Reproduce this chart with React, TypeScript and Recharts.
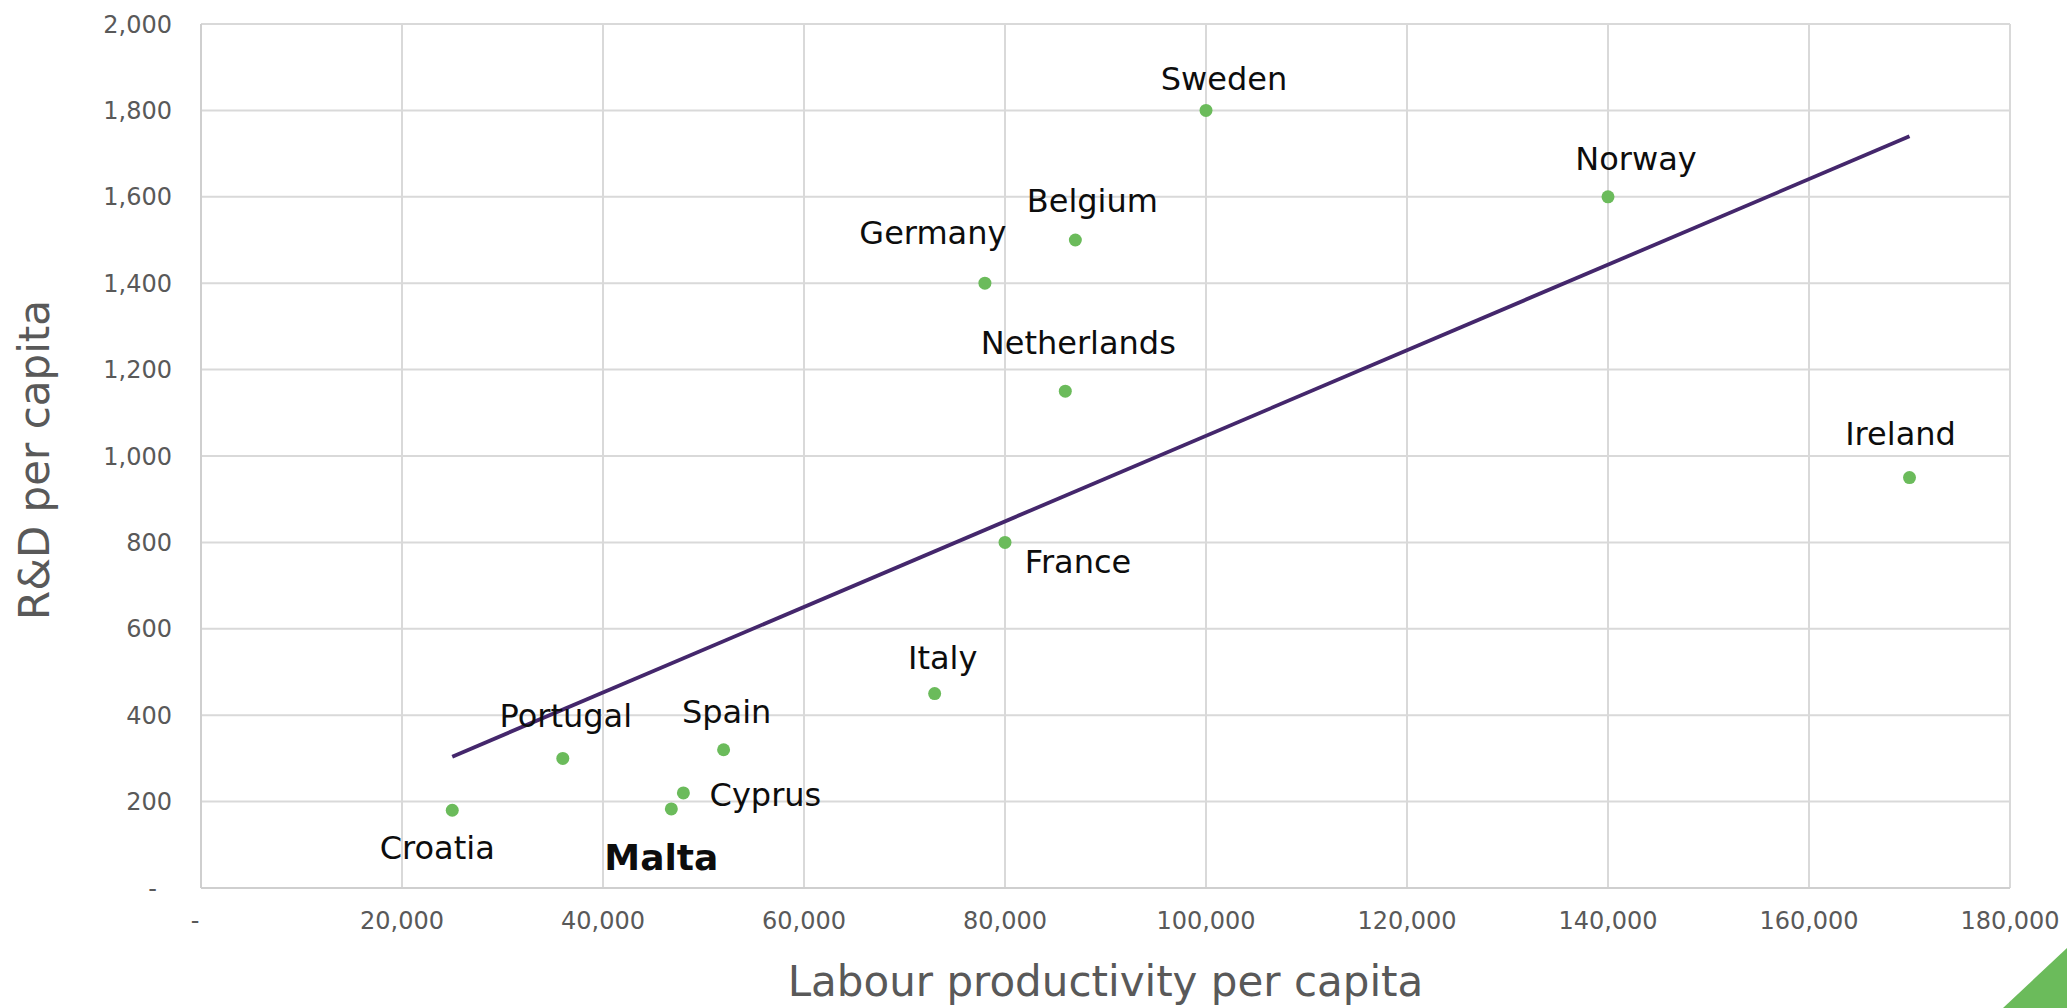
import { ScatterChart, Scatter, XAxis, YAxis, CartesianGrid, ReferenceLine, Label } from "recharts";

const countries = [
  "Sweden",
  "Norway",
  "Belgium",
  "Germany",
  "Netherlands",
  "Ireland",
  "France",
  "Italy",
  "Spain",
  "Portugal",
  "Cyprus",
  "Malta",
  "Croatia",
];
const productivity = [100000, 140000, 87000, 78000, 86000, 170000, 80000, 73000, 52000, 36000, 48000, 46800, 25000];
const rdPerCapita = [1800, 1600, 1500, 1400, 1150, 950, 800, 450, 320, 300, 220, 183, 180];

const xTicks = [0, 20000, 40000, 60000, 80000, 100000, 120000, 140000, 160000, 180000];
const yTicks = [0, 200, 400, 600, 800, 1000, 1200, 1400, 1600, 1800, 2000];

// linear trend line end points
const trendX = [25000, 170000];
const trendY = [304, 1740];

const highlight = "Malta";

// label centre relative to its dot
const labelOffset: Record<string, [number, number]> = {
  Sweden: [18, -32],
  Norway: [28, -38],
  Belgium: [17, -40],
  Germany: [-52, -51],
  Netherlands: [13, -49],
  Ireland: [-9, -44],
  France: [73, 19],
  Italy: [8, -36],
  Spain: [3, -38],
  Portugal: [3, -43],
  Cyprus: [82, 2],
  Malta: [-10, 48],
  Croatia: [-15, 37],
};

const FONT = "DejaVu Sans";
const GREEN = "#6BBB5B";
const GRID = "#d9d9d9";
const TICK = "#595959";

const data = countries.map((name, i) => ({ name, x: productivity[i], y: rdPerCapita[i] }));

const fmt = (v: number) => (v === 0 ? "-" : v.toLocaleString("en-US"));

function Dot(props: any) {
  const { cx, cy, payload } = props;
  const [dx, dy] = labelOffset[payload.name] ?? [0, -30];
  const bold = payload.name === highlight;
  const size = bold ? 36 : 32;
  return (
    <g>
      <circle cx={cx} cy={cy} r={6.5} fill={GREEN} />
      <text
        x={cx + dx}
        y={cy + dy + size * 0.36}
        textAnchor="middle"
        fontFamily={FONT}
        fontSize={size}
        fontWeight={bold ? 700 : 400}
        fill="#0d0d0d"
      >
        {payload.name}
      </text>
    </g>
  );
}

function XTick(props: any) {
  const { x, y, payload } = props;
  const zero = payload.value === 0;
  return (
    <text x={x + (zero ? -6 : 0)} y={y + 41} textAnchor="middle" fontFamily={FONT} fontSize={24} fill={TICK}>
      {fmt(payload.value)}
    </text>
  );
}

function YTick(props: any) {
  const { x, y, payload } = props;
  const zero = payload.value === 0;
  return (
    <text x={x - (zero ? 15 : 0)} y={y + 8.5} textAnchor="end" fontFamily={FONT} fontSize={24} fill={TICK}>
      {fmt(payload.value)}
    </text>
  );
}

export default function App() {
  return (
    <div style={{ position: "absolute", left: 0, top: 0, width: 2067, height: 1008, background: "#fff" }}>
      <ScatterChart width={2067} height={1008} margin={{ top: 24, right: 57, bottom: 60, left: 81 }}>
        <CartesianGrid stroke={GRID} strokeWidth={2} />
        <XAxis
          type="number"
          dataKey="x"
          domain={[0, 180000]}
          ticks={xTicks}
          height={60}
          tickLine={false}
          tickSize={0}
          tickMargin={0}
          axisLine={{ stroke: "#cfcfcf", strokeWidth: 2 }}
          tick={<XTick />}
          interval={0}
        >
          <Label
            content={({ viewBox }: any) => (
              <text
                x={viewBox.x + viewBox.width / 2}
                y={viewBox.y + 108}
                textAnchor="middle"
                fontFamily={FONT}
                fontSize={42}
                fill={TICK}
              >
                Labour productivity per capita
              </text>
            )}
          />
        </XAxis>
        <YAxis
          type="number"
          dataKey="y"
          domain={[0, 2000]}
          ticks={yTicks}
          width={120}
          tickLine={false}
          tickSize={0}
          tickMargin={29}
          axisLine={{ stroke: "#cfcfcf", strokeWidth: 2 }}
          tick={<YTick />}
          interval={0}
        >
          <Label
            content={({ viewBox }: any) => {
              const cx = 49;
              const cy = viewBox.y + viewBox.height / 2 + 4;
              return (
                <text
                  x={cx}
                  y={cy}
                  transform={`rotate(-90, ${cx}, ${cy})`}
                  textAnchor="middle"
                  fontFamily={FONT}
                  fontSize={42}
                  fill={TICK}
                >
                  R&amp;D per capita
                </text>
              );
            }}
          />
        </YAxis>
        <ReferenceLine
          segment={[
            { x: trendX[0], y: trendY[0] },
            { x: trendX[1], y: trendY[1] },
          ]}
          stroke="#44276C"
          strokeWidth={3.8}
        />
        <Scatter data={data} shape={<Dot />} isAnimationActive={false} />
      </ScatterChart>
      <svg
        width={2067}
        height={1008}
        style={{ position: "absolute", left: 0, top: 0, pointerEvents: "none" }}
      >
        <polygon points="2003,1008 2067,1008 2067,948" fill={GREEN} />
      </svg>
    </div>
  );
}
